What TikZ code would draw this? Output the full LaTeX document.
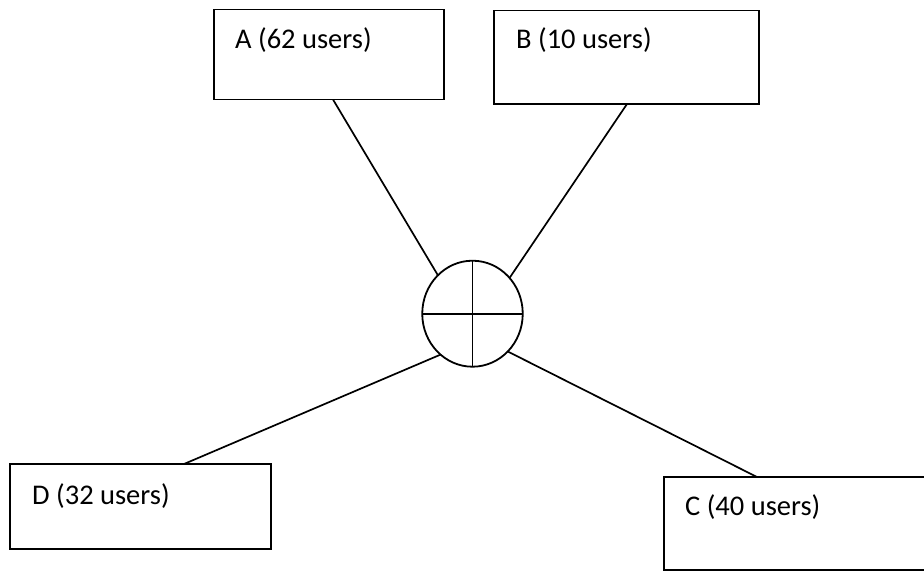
\documentclass[tikz,border=0pt]{standalone}
\usepackage{fontspec}
\setmainfont{Carlito}
\usetikzlibrary{shapes.geometric}
\begin{document}
\begin{tikzpicture}[x=1pt,y=-1pt,
  box/.style={draw, line width=1.8pt, inner sep=0pt, outer sep=0pt},
  lbl/.style={anchor=base west, inner sep=0pt, font=\fontsize{28.5}{34}\selectfont},
  conn/.style={line width=1.7pt}]
\useasboundingbox (0,0) rectangle (924,571);
% boxes
\node[box, minimum width=230pt, minimum height=90pt] (A) at (329,54.5) {};
\node[box, minimum width=265pt, minimum height=93.5pt] (B) at (626.5,57.25) {};
\node[box, minimum width=261pt, minimum height=85pt] (D) at (140.5,506.5) {};
\node[box, minimum width=276pt, minimum height=93pt] (C) at (802,523.5) {};
% labels
\node[lbl] (At) at (235,48) {A (62 users)};
\node[lbl] (Bt) at (516,48) {B (10 users)};
\node[lbl] (Dt) at (32,504) {D (32 users)};
\node[lbl] (Ct) at (685,515) {C (40 users)};
% hub
\node[draw, ellipse, line width=1.8pt, minimum width=100.5pt, minimum height=106pt, inner sep=0pt, outer sep=0pt] (hub) at (472.5,313.7) {};
\draw[conn] (hub.north) -- (hub.south);
\draw[conn] (hub.west) -- (hub.east);
% attachment points
\coordinate (a1) at (333,99.5);
\coordinate (b1) at (627,104);
\coordinate (d1) at (184,464);
\coordinate (c1) at (757,477);
\draw[conn] (hub.132.7) -- (a1);
\draw[conn] (hub.44.3) -- (b1);
\draw[conn] (hub.232) -- (d1);
\draw[conn] (hub.313.5) -- (c1);
\end{tikzpicture}
\end{document}
